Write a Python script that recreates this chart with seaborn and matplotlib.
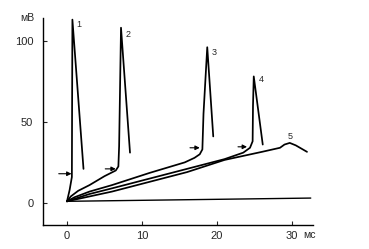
import seaborn as sns
import matplotlib.pyplot as plt
import pandas as pd

# membrane potential traces (time in ms, potential in mV)
t1 = [0, 0.35, 0.65, 0.68, 0.72, 2.2]
v1 = [1, 8, 16, 60, 113, 21]

t2 = [0, 0.5, 1.5, 3, 5, 6.5, 6.85, 6.95, 7.2, 8.4]
v2 = [1, 4, 7.5, 11, 16.5, 20, 22.5, 35, 108, 31]

t3 = [0, 1, 3, 6, 11, 15.7, 17.0, 17.7, 18.05, 18.2, 18.7, 19.5]
v3 = [1, 3.5, 7, 11, 18.5, 25, 27.8, 30, 33, 55, 96, 41]

t4 = [0, 1, 3, 6, 11, 16, 21, 23.5, 24.4, 24.75, 24.8, 24.9, 26.1]
v4 = [1, 2.5, 5.5, 9, 15, 21, 27, 31, 34, 38, 60, 78, 36]

t5 = [0, 2, 6, 11, 16, 21, 26, 28.4, 29.0, 29.7, 30.5, 32.0]
v5 = [1, 3, 7, 13, 19, 26.5, 31.5, 34, 36, 37, 35.5, 31.5]

t_base = [0, 32.5]
v_base = [1, 3]

# curve labels and their positions
labels = ["1", "2", "3", "4", "5"]
label_t = [1.6, 8.1, 19.6, 25.9, 29.7]
label_v = [110, 104, 93, 76, 41]

# threshold arrows: start time, end time, potential
arrow_t0 = [-1.1, 5.1, 16.4, 22.8]
arrow_t1 = [0.6, 6.5, 17.7, 24.0]
arrow_v = [18, 21, 34, 34.6]

x_ticks = [0, 10, 20, 30]
y_ticks = [0, 50, 100]

rows = []
for name, ts, vs in [("1", t1, v1), ("2", t2, v2), ("3", t3, v3),
                     ("4", t4, v4), ("5", t5, v5)]:
    for t, v in zip(ts, vs):
        rows.append({"curve": name, "t": t, "V": v})
df = pd.DataFrame(rows)

sns.set_style("ticks")
plt.rcParams['font.family'] = ['Liberation Sans', 'DejaVu Sans']

fig = plt.figure(figsize=(3.69, 2.49), dpi=100)
ax = fig.add_axes([43 / 369, 24 / 249, 270 / 369, 207 / 249])

sns.lineplot(data=df, x="t", y="V", units="curve", estimator=None, sort=False,
             color="black", linewidth=1.25, ax=ax, legend=False)
sns.lineplot(x=t_base, y=v_base, color="black", linewidth=1.0, ax=ax)

for lab, lt, lv in zip(labels, label_t, label_v):
    ax.text(lt, lv, lab, fontsize=6.5, ha="center", va="center")

for a0, a1, av in zip(arrow_t0, arrow_t1, arrow_v):
    ax.annotate("", xy=(a1, av), xytext=(a0, av),
                arrowprops=dict(arrowstyle="-|>", color="black", lw=0.8,
                                mutation_scale=6.5, shrinkA=0, shrinkB=0))

ax.set_xlim(-3.2, 32.8)
ax.set_ylim(-13.6, 114)
ax.set_xticks(x_ticks)
ax.set_yticks(y_ticks)
ax.tick_params(direction="in", length=3, width=0.8, labelsize=8)
ax.tick_params(axis="x", pad=4)
ax.tick_params(axis="y", pad=7)
ax.set_xlabel("")
ax.set_ylabel("")
sns.despine(ax=ax)
for s in ["left", "bottom"]:
    ax.spines[s].set_linewidth(1.0)
    ax.spines[s].set_color("black")

ax.text(-4.3, 114, "мВ", fontsize=7.5, ha="right", va="center", clip_on=False)
ax.text(32.3, -19.8, "мс", fontsize=7.5, ha="center", va="center", clip_on=False)

fig.savefig("out.png", dpi=100)
